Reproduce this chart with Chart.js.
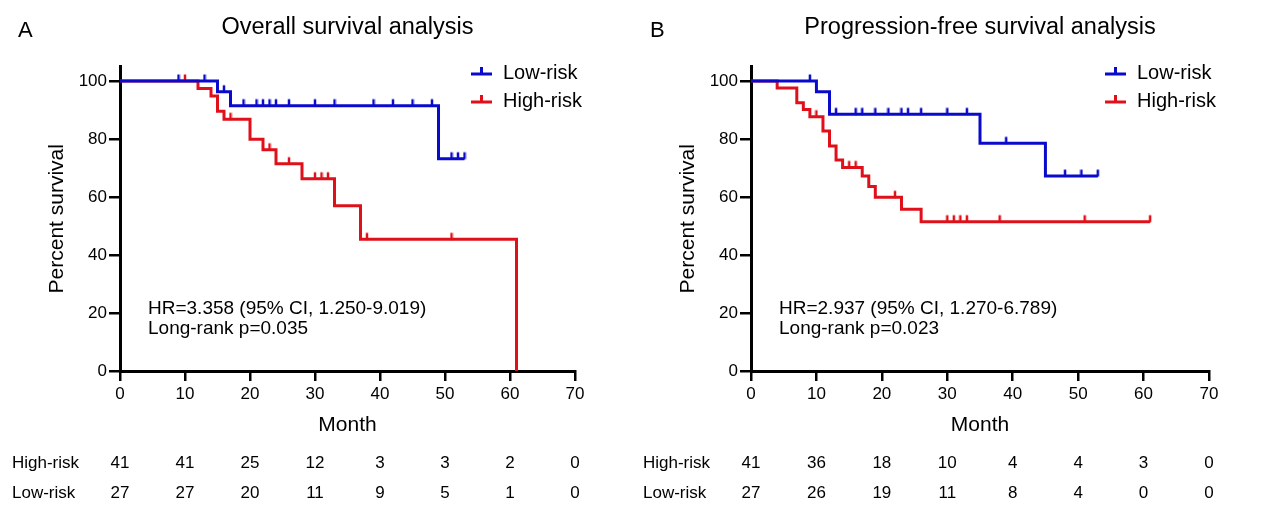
<!DOCTYPE html>
<html><head><meta charset="utf-8">
<script src="https://cdn.jsdelivr.net/npm/chart.js@4/dist/chart.umd.min.js"></script>
<style>
html,body{margin:0;padding:0;background:#fff;}
#wrap{position:relative;width:1268px;height:515px;overflow:hidden;background:#fff;}
canvas{position:absolute;top:0;}
</style></head><body>
<div id="wrap">
<canvas id="os" width="630" height="515" style="left:0"></canvas>
<canvas id="pfs" width="638" height="515" style="left:630px"></canvas>
</div>
<script>
// ---------- data ----------
const xTicks = [0, 10, 20, 30, 40, 50, 60, 70];
const yTicks = [0, 20, 40, 60, 80, 100];
const seriesNames = ['Low-risk', 'High-risk'];

// Overall survival
const osLowTime = [0, 15, 17, 49, 53];
const osLowSurv = [100, 96.3, 91.5, 73.2, 73.2];
const osLowCensor = [9, 13, 16, 19, 21, 22, 23, 24, 26, 30, 33, 39, 42, 45, 48, 51, 52, 53];
const osHighTime = [0, 12, 14, 15, 16, 20, 22, 24, 28, 33, 37, 61];
const osHighSurv = [100, 97.4, 94.8, 89.6, 86.8, 79.9, 76.3, 71.5, 66.3, 57.0, 45.4, 0];
const osHighCensor = [10, 17, 23, 26, 30, 31, 32, 38, 51];
const osRiskHigh = [41, 41, 25, 12, 3, 3, 2, 0];
const osRiskLow = [27, 27, 20, 11, 9, 5, 1, 0];

// Progression-free survival
const pfsLowTime = [0, 10, 12, 35, 45, 53];
const pfsLowSurv = [100, 96.3, 88.5, 78.5, 67.2, 67.2];
const pfsLowCensor = [9, 13, 16, 17, 19, 21, 23, 24, 26, 30, 33, 39, 48, 50.5, 53];
const pfsHighTime = [0, 4, 7, 8, 9, 11, 12, 13, 14, 17, 18, 19, 23, 26, 61];
const pfsHighSurv = [100, 97.6, 92.5, 90.2, 87.7, 82.8, 77.6, 72.8, 70.2, 67.2, 63.6, 59.9, 55.8, 51.5, 51.5];
const pfsHighCensor = [10, 15, 16, 22, 30, 31, 32, 33, 38, 51, 61];
const pfsRiskHigh = [41, 36, 18, 10, 4, 4, 3, 0];
const pfsRiskLow = [27, 26, 19, 11, 8, 4, 0, 0];

// ---------- style ----------
const FF = "'Liberation Sans', Arial, Helvetica, sans-serif";
const BLUE = '#0a0acc';
const RED = '#e0101a';
Chart.defaults.font.family = FF;
Chart.defaults.color = '#000';

function steps(times, surv) { return times.map((t, i) => ({ x: t, y: surv[i] })); }
function survAt(times, surv, t) {
  let v = surv[0];
  for (let i = 0; i < times.length; i++) { if (times[i] <= t) v = surv[i]; }
  return v;
}
function censors(list, times, surv) { return list.map(t => ({ x: t, y: survAt(times, surv, t) })); }
function tickImg(color) {
  const c = document.createElement('canvas');
  c.width = 4; c.height = 16;
  const g = c.getContext('2d');
  g.strokeStyle = color; g.lineWidth = 2.5;
  g.beginPath(); g.moveTo(2, 8.5); g.lineTo(2, 1.5); g.stroke();
  return c;
}
const blueTick = tickImg(BLUE), redTick = tickImg(RED);

const decor = {
  id: 'decor',
  afterDraw(chart, args, o) {
    const { ctx, chartArea: ca } = chart;
    const x = chart.scales.x;
    ctx.save();
    ctx.fillStyle = '#000';
    ctx.textBaseline = 'middle';
    ctx.textAlign = 'left';
    ctx.font = '22px ' + FF;
    ctx.fillText(o.letter, o.letterX, 31);
    ctx.textAlign = 'center';
    ctx.font = '23.5px ' + FF;
    ctx.fillText(o.title, (ca.left + ca.right) / 2, 28);
    ctx.textAlign = 'left';
    ctx.font = '19px ' + FF;
    ctx.fillText(o.hr, ca.left + 28, 309);
    ctx.fillText(o.p, ca.left + 28, 329);
    o.legend.forEach((it, i) => {
      const y = 74 + i * 28;
      const x0 = ca.right - 104;
      ctx.strokeStyle = it.color; ctx.lineWidth = 3;
      ctx.beginPath();
      ctx.moveTo(x0, y); ctx.lineTo(x0 + 21, y);
      ctx.moveTo(x0 + 10.5, y); ctx.lineTo(x0 + 10.5, y - 7);
      ctx.stroke();
      ctx.fillStyle = '#000';
      ctx.font = '20px ' + FF;
      ctx.fillText(it.label, x0 + 32, y - 1);
    });
    ctx.font = '17px ' + FF;
    o.rows.forEach((r, i) => {
      const y = 463 + i * 30;
      ctx.textAlign = 'left';
      ctx.fillText(r.label, o.rowLabelX, y);
      ctx.textAlign = 'center';
      r.values.forEach((v, j) => ctx.fillText(String(v), x.getPixelForValue(xTicks[j]), y));
    });
    ctx.restore();
  }
};

function makeChart(id, d) {
  return new Chart(document.getElementById(id), {
    type: 'line',
    data: {
      datasets: [
        { label: seriesNames[0], data: steps(d.lowT, d.lowS), borderColor: BLUE, borderWidth: 3, stepped: true, pointRadius: 0, fill: false },
        { label: seriesNames[0] + ' censored', data: censors(d.lowC, d.lowT, d.lowS), showLine: false, pointStyle: blueTick, pointRadius: 4 },
        { label: seriesNames[1], data: steps(d.highT, d.highS), borderColor: RED, borderWidth: 3, stepped: true, pointRadius: 0, fill: false },
        { label: seriesNames[1] + ' censored', data: censors(d.highC, d.highT, d.highS), showLine: false, pointStyle: redTick, pointRadius: 4 }
      ]
    },
    options: {
      responsive: false, animation: false, events: [],
      clip: false,
      layout: { padding: { left: d.padL, right: d.padR, top: 66.5, bottom: 73.4 } },
      plugins: {
        legend: { display: false }, tooltip: { enabled: false },
        decor: {
          letter: d.letter, letterX: d.letterX, title: d.title, hr: d.hr, p: d.p,
          legend: [{ label: seriesNames[0], color: BLUE }, { label: seriesNames[1], color: RED }],
          rows: [{ label: 'High-risk', values: d.riskHigh }, { label: 'Low-risk', values: d.riskLow }],
          rowLabelX: d.rowLabelX
        }
      },
      scales: {
        x: {
          type: 'linear', min: 0, max: 70,
          afterBuildTicks: s => { s.ticks = xTicks.map(v => ({ value: v })); },
          afterFit: s => { s.height = 70.6; },
          grid: { drawOnChartArea: false, drawTicks: true, tickLength: 10, color: '#000', lineWidth: 2.5 },
          border: { display: true, color: '#000', width: 3 },
          ticks: { font: { size: 17 }, color: '#000', padding: 3, maxRotation: 0, autoSkip: false },
          title: { display: true, text: 'Month', font: { size: 21 }, color: '#000', padding: { top: 4, bottom: 4 } }
        },
        y: {
          type: 'linear', min: 0, max: 105,
          afterBuildTicks: s => { s.ticks = yTicks.map(v => ({ value: v })); },
          afterFit: s => { s.width = 80; },
          grid: { drawOnChartArea: false, drawTicks: true, tickLength: 11, color: '#000', lineWidth: 2.5 },
          border: { display: true, color: '#000', width: 3 },
          ticks: { font: { size: 17 }, color: '#000', padding: 2, autoSkip: false },
          title: { display: true, text: 'Percent survival', font: { size: 21 }, color: '#000', padding: { top: 5, bottom: 4 } }
        }
      }
    },
    plugins: [decor]
  });
}

makeChart('os', {
  lowT: osLowTime, lowS: osLowSurv, lowC: osLowCensor,
  highT: osHighTime, highS: osHighSurv, highC: osHighCensor,
  riskHigh: osRiskHigh, riskLow: osRiskLow,
  padL: 40, padR: 55, letter: 'A', letterX: 18, rowLabelX: 12,
  title: 'Overall survival analysis',
  hr: 'HR=3.358 (95% CI, 1.250-9.019)', p: 'Long-rank p=0.035'
});
makeChart('pfs', {
  lowT: pfsLowTime, lowS: pfsLowSurv, lowC: pfsLowCensor,
  highT: pfsHighTime, highS: pfsHighSurv, highC: pfsHighCensor,
  riskHigh: pfsRiskHigh, riskLow: pfsRiskLow,
  padL: 41, padR: 59, letter: 'B', letterX: 20, rowLabelX: 13,
  title: 'Progression-free survival analysis',
  hr: 'HR=2.937 (95% CI, 1.270-6.789)', p: 'Long-rank p=0.023'
});
</script>
</body></html>
